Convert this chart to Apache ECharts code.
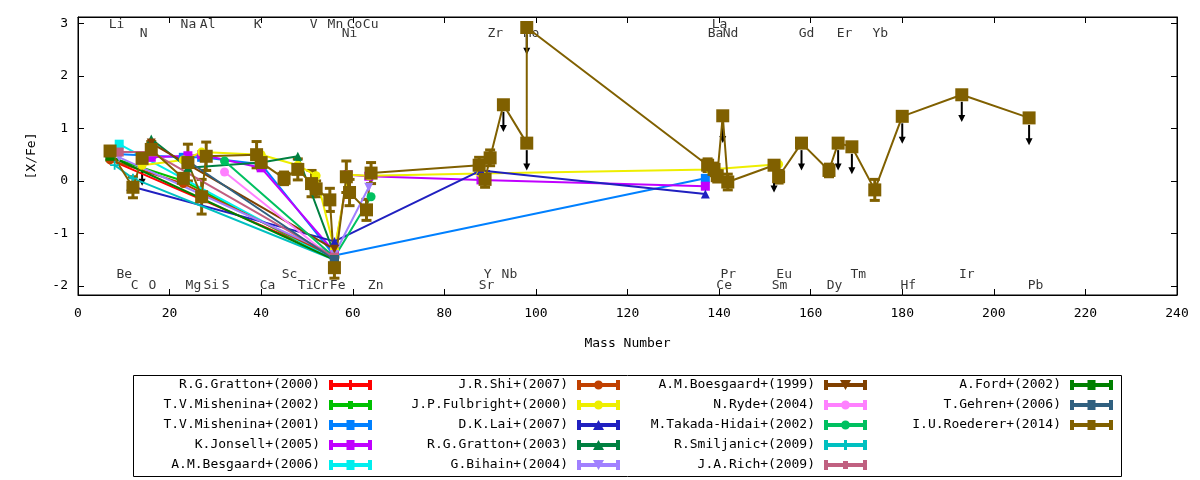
<!DOCTYPE html>
<html>
<head>
<meta charset="utf-8">
<script src="https://cdn.jsdelivr.net/npm/echarts@6/dist/echarts.min.js"></script>
<style>
html,body{margin:0;padding:0;background:#fff;}
#chart{width:1200px;height:480px;}
</style>
</head>
<body>
<div id="chart"></div>
<script>
var FONT = 'DejaVu Sans Mono';

// 各文献 [质量数, [X/Fe]]
var gratton2000   = [[7,0.40],[56,-1.45]];
var mishenina2002 = [[7,0.45],[23,0.00],[56,-1.50]];
var mishenina2001 = [[7,0.52],[23,0.45],[27,0.45],[40,0.32],[56,-1.42],[137,0.05]];
var jonsell2005   = [[16,0.45],[24,0.48],[27,0.50],[40,0.25],[56,-1.35],[59,0.12],[63.5,0.09],[88,0.02],[137,-0.10]];
var besgaard2006  = [[9,0.70],[56,-1.50]];
var shi2007       = [[7,0.40],[23,-0.05],[56,-1.45]];
var fulbright2000 = [[14,0.30],[23,0.40],[27,0.55],[40,0.50],[48,0.30],[52,0.10],[56,-1.30],[59,0.12],[63.5,0.10],[88,0.14],[138,0.22],[153,0.32]];
var lai2007       = [[11.5,-0.10],[56,-1.15],[88,0.20],[137,-0.25]];
var gratton2003   = [[16,0.80],[24,0.25],[40,0.35],[48,0.47],[56,-1.40]];
var bihain2004    = [[9,0.45],[56,-1.40],[63.5,-0.12]];
var boesgaard1999 = [[16,0.72],[56,-1.30]];
var ryde2004      = [[32,0.17],[56,-1.50]];
var takada2002    = [[32,0.38],[56,-1.45],[64,-0.30]];
var smiljanic2009 = [[8,0.30],[12,0.05],[56,-1.50]];
var rich2009      = [[9,0.55],[16,0.55],[56,-1.45]];
var ford2002      = [[7,0.47],[56,-1.50]];
var gehren2006    = [[24,0.38],[56,-1.50]];

// Roederer 2014
var roedererMass = [7,12,14,16,23,24,27,28,39,40,45,48,51,52,55,56,58.6,59.3,63,64,87.6,88.9,90,92.9,98,98,137.5,138.9,139.6,140.8,141.9,152,153,158,164,166,169,174,180,193,207.7];
var roedererVal  = [0.57,-0.12,0.43,0.60,0.05,0.35,-0.30,0.47,0.50,0.35,0.05,0.22,-0.05,-0.15,-0.36,-1.65,0.08,-0.22,-0.55,0.15,0.30,0.03,0.44,1.45,0.72,2.92,0.30,0.22,0.10,1.24,-0.02,0.30,0.08,0.72,0.20,0.72,0.65,-0.17,1.23,1.64,1.20];
var roedererErr  = [0.08,0.20,0,0.15,0.08,0.35,0.33,0.27,0.25,0.12,0.12,0.20,0.25,0.15,0.22,0.20,0.30,0.25,0.20,0.20,0.15,0.15,0.15,0,0,0,0.12,0.12,0.12,0,0.15,0,0.12,0,0.12,0,0,0.20,0,0,0];
var roedererUL   = [0,0,1,0,0,0,0,0,0,0,0,0,0,0,0,0,0,0,0,0,0,0,0,1,1,1,0,0,0,1,0,1,0,1,0,1,1,0,1,1,1];

// 元素标注
var elemNames = ['Li','N','Na','Al','K','V','Mn','Co','Cu','Ni','Zr','Mo','La','Ba','Nd','Gd','Er','Yb',
                 'Be','C','O','Mg','Si','S','Ca','Sc','Ti','Cr','Fe','Zn','Y','Nb','Sr','Pr','Ce','Eu','Sm','Dy','Tm','Hf','Ir','Pb'];
var elemMass  = [6.7,13.5,22.4,26.6,38.4,50.6,54.5,58.7,62.2,57.6,89.4,97.3,138.4,137.5,140.8,157.4,165.7,173.5,
                 8.4,11.5,15.4,23.5,27.4,31.4,39.7,44.5,48,51.3,55,63.3,88.6,92.5,87.5,140.3,139.4,152.5,151.5,163.5,168.7,179.6,192.4,207.4];
var elemRow   = [0,1,0,0,0,0,0,0,0,1,1,1,0,1,1,1,1,1,
                 2,3,3,3,3,3,3,2,3,3,3,3,2,2,3,2,3,2,3,3,2,3,2,3];
var rowY = [2.97, 2.81, -1.79, -2.00];

var yTicks = [-2,-1,0,1,2,3];

var names = ['R.G.Gratton+(2000)','T.V.Mishenina+(2002)','T.V.Mishenina+(2001)','K.Jonsell+(2005)','A.M.Besgaard+(2006)',
             'J.R.Shi+(2007)','J.P.Fulbright+(2000)','D.K.Lai+(2007)','R.G.Gratton+(2003)','G.Bihain+(2004)',
             'A.M.Boesgaard+(1999)','N.Ryde+(2004)','M.Takada-Hidai+(2002)','R.Smiljanic+(2009)','J.A.Rich+(2009)',
             'A.Ford+(2002)','T.Gehren+(2006)','I.U.Roederer+(2014)'];
var refData = [gratton2000,mishenina2002,mishenina2001,jonsell2005,besgaard2006,
               shi2007,fulbright2000,lai2007,gratton2003,bihain2004,
               boesgaard1999,ryde2004,takada2002,smiljanic2009,rich2009,
               ford2002,gehren2006,null];
var colors = ['#ff0000','#00c000','#0080ff','#c000ff','#00eeee',
              '#c04000','#eeee00','#2020c0','#008040','#a080ff',
              '#804000','#ff80ff','#00c060','#00c0c0','#c06080',
              '#008000','#306080','#806000'];
var markers = ['plus','x','square','square','square',
               'circle','circle','triangle','triangle','tridown',
               'tridown','circle','circle','plus','x',
               'square','square','square'];

var symbolOf = {
	plus: 'path://M4,0H6V10H4Z M0,4H10V6H0Z',
	x: 'path://M1,1H9V9H1Z',
	square: 'rect',
	circle: 'circle',
	triangle: 'triangle',
	tridown: 'path://M0,0H10L5,10Z'
};
var legendBar = 'M0,0H4V10H0Z M39,0H43V10H39Z M0,3H43V7H0Z';
var iconOf = {
	plus: ' M20,0H23V10H20Z',
	x: ' M19,1H24V9H19Z',
	square: ' M17.5,0H25.5V10H17.5Z',
	circle: ' M26,5A4.5,4.5,0,1,1,17,5A4.5,4.5,0,1,1,26,5Z',
	triangle: ' M21.5,0L27,10H16Z',
	tridown: ' M16,0H27L21.5,10Z'
};

var roederer = [], roedererBars = [], roedererArrows = [];
for (var k = 0; k < roedererMass.length; k++) {
	roederer.push([roedererMass[k], roedererVal[k]]);
	if (roedererErr[k] > 0) roedererBars.push([roedererMass[k], roedererVal[k], roedererErr[k]]);
	if (roedererUL[k]) roedererArrows.push([roedererMass[k], roedererVal[k]]);
}
refData[17] = roederer;

var series = [];
// 元素符号
var labelData = [];
for (var j = 0; j < elemNames.length; j++) {
	labelData.push({value: [elemMass[j], rowY[elemRow[j]]], name: elemNames[j]});
}
series.push({
	type: 'scatter', data: labelData, symbolSize: 1, z: 1,
	itemStyle: {color: 'rgba(0,0,0,0)'}, silent: true,
	label: {show: true, position: 'inside', align: 'left', verticalAlign: 'middle',
		formatter: '{b}', color: '#000', fontFamily: FONT, fontSize: 13}
});

for (var i = 0; i < names.length; i++) {
	if (i == 17) {
		// 误差棒
		series.push({
			type: 'custom', z: 2, silent: true, data: roedererBars,
			renderItem: function (params, api) {
				var x = api.value(0), y = api.value(1), e = api.value(2);
				var t = api.coord([x, y + e]), b = api.coord([x, y - e]);
				var st = {stroke: '#806000', lineWidth: 3};
				return {type: 'group', children: [
					{type: 'line', shape: {x1: t[0], y1: t[1], x2: b[0], y2: b[1]}, style: st},
					{type: 'line', shape: {x1: t[0] - 5, y1: t[1], x2: t[0] + 5, y2: t[1]}, style: st},
					{type: 'line', shape: {x1: b[0] - 5, y1: b[1], x2: b[0] + 5, y2: b[1]}, style: st}
				]};
			}
		});
	}
	series.push({
		name: names[i], type: 'line', data: refData[i], z: 2,
		symbol: symbolOf[markers[i]], symbolSize: i == 17 ? 13 : 9,
		showSymbol: true,
		lineStyle: {color: colors[i], width: 2},
		itemStyle: {color: colors[i]}
	});
}
// 上限箭头
series.push({
	type: 'custom', z: 2, silent: true, data: roedererArrows,
	renderItem: function (params, api) {
		var x = api.value(0), y = api.value(1);
		var p = api.coord([x, y]), q = api.coord([x, y - 0.52]);
		return {type: 'group', children: [
			{type: 'line', shape: {x1: p[0], y1: p[1] + 7, x2: q[0], y2: q[1] - 5}, style: {stroke: '#000', lineWidth: 2}},
			{type: 'polygon', shape: {points: [[q[0] - 3.5, q[1] - 7], [q[0] + 3.5, q[1] - 7], [q[0], q[1]]]}, style: {fill: '#000'}}
		]};
	}
});

// 图例 4 列
var legendCols = [[0,1,2,3,4],[5,6,7,8,9],[10,11,12,13,14],[15,16,17]];
var legendRight = [828, 580, 333, 87];
var legends = [];
for (var c = 0; c < legendCols.length; c++) {
	var items = [];
	for (var r = 0; r < legendCols[c].length; r++) {
		var n = legendCols[c][r];
		items.push({name: names[n], icon: 'path://' + legendBar + iconOf[markers[n]]});
	}
	legends.push({
		orient: 'vertical', align: 'right', right: legendRight[c], top: 378,
		itemWidth: 43, itemHeight: 10, itemGap: 6, padding: 0, selectedMode: false,
		textStyle: {fontFamily: FONT, fontSize: 13, color: '#000', lineHeight: 14, padding: [0, 4, 0, 0]},
		data: items
	});
}

function axisBase(extra) {
	var a = {
		axisLine: {onZero: false, lineStyle: {color: '#000'}},
		axisTick: {inside: true, length: 6, lineStyle: {color: '#000'}},
		splitLine: {show: false}
	};
	return echarts.util.merge(a, extra, true);
}

var option = {
	animation: false,
	backgroundColor: '#fff',
	grid: {left: 78, top: 17, width: 1099, height: 278, show: true, borderColor: '#000', borderWidth: 1, backgroundColor: 'transparent'},
	legend: legends,
	graphic: [{type: 'rect', shape: {x: 133.5, y: 375.5, width: 988, height: 101}, style: {fill: 'none', stroke: '#000', lineWidth: 1}, z: 0}],
	xAxis: [
		axisBase({type: 'value', min: 0, max: 240, interval: 20, position: 'bottom',
			name: 'Mass Number', nameLocation: 'middle', nameGap: 42,
			nameTextStyle: {fontFamily: FONT, fontSize: 13, color: '#000'},
			axisLabel: {fontFamily: FONT, fontSize: 13, color: '#000', margin: 12}}),
		axisBase({type: 'value', min: 0, max: 240, interval: 20, position: 'top',
			axisLabel: {show: false}})
	],
	yAxis: [
		axisBase({type: 'value', min: -2.17, max: 3.12, position: 'left',
			name: '[X/Fe]', nameLocation: 'middle', nameGap: 40, nameRotate: 90,
			nameTextStyle: {fontFamily: FONT, fontSize: 13, color: '#000'},
			axisTick: {customValues: yTicks},
			axisLabel: {fontFamily: FONT, fontSize: 13, color: '#000', margin: 10, customValues: yTicks}}),
		axisBase({type: 'value', min: -2.17, max: 3.12, position: 'right',
			axisTick: {customValues: yTicks},
			axisLabel: {show: false, customValues: yTicks}})
	],
	series: series
};

var myChart = echarts.init(document.getElementById('chart'));
myChart.setOption(option);
</script>
</body>
</html>
